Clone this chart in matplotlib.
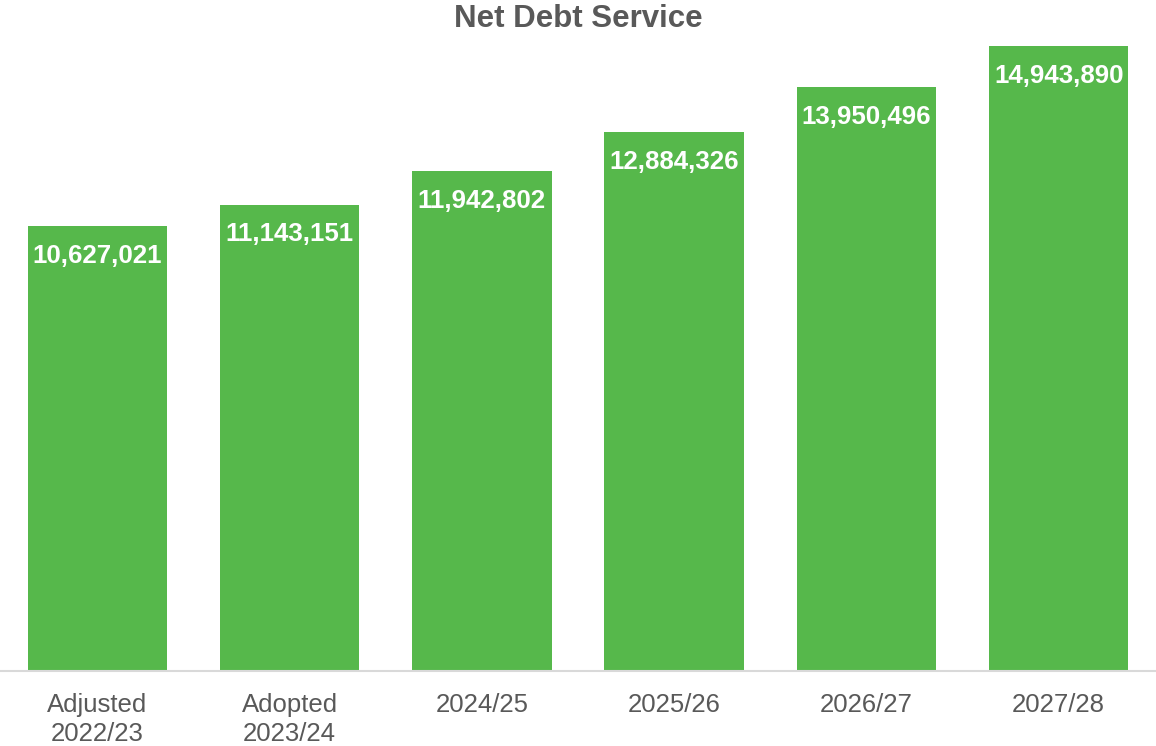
import numpy as np
import matplotlib.pyplot as plt

plt.rcParams['font.family'] = ['Liberation Sans', 'DejaVu Sans']

categories = ['Adjusted\n2022/23', 'Adopted\n2023/24', '2024/25', '2025/26', '2026/27', '2027/28']
values = [10627021, 11143151, 11942802, 12884326, 13950496, 14943890]

bar_color = '#56B84B'
text_gray = '#595959'

fig = plt.figure(figsize=(11.56, 7.46), dpi=100)
ax = fig.add_axes([0.001, 0.1012, 0.998, 0.8968])

x = np.arange(len(categories))
bars = ax.bar(x, values, width=0.725, color=bar_color, zorder=2)

# value labels sit inside the top of each bar
for rect, v in zip(bars, values):
    ax.annotate(f'{v:,}', xy=(rect.get_x() + rect.get_width() / 2, v),
                xytext=(0, -21.5), textcoords='offset points',
                ha='center', va='center', color='white',
                fontsize=18.6, fontweight='bold')

ax.set_xlim(-0.5, len(categories) - 0.5)
ax.set_ylim(0, 16e6)
ax.set_xticks(x)
ax.set_xticklabels(categories, fontsize=18.5, color=text_gray, linespacing=1.3)
ax.tick_params(axis='x', length=0, pad=16)
ax.set_yticks([])

for side in ['top', 'right', 'left']:
    ax.spines[side].set_visible(False)
ax.spines['bottom'].set_color('#D9D9D9')
ax.spines['bottom'].set_linewidth(1.5)

fig.text(0.5, 1 - 19 / 746, 'Net Debt Service', ha='center', va='center',
         fontsize=22.5, fontweight='bold', color=text_gray)

fig.savefig('out.png', dpi=100)
